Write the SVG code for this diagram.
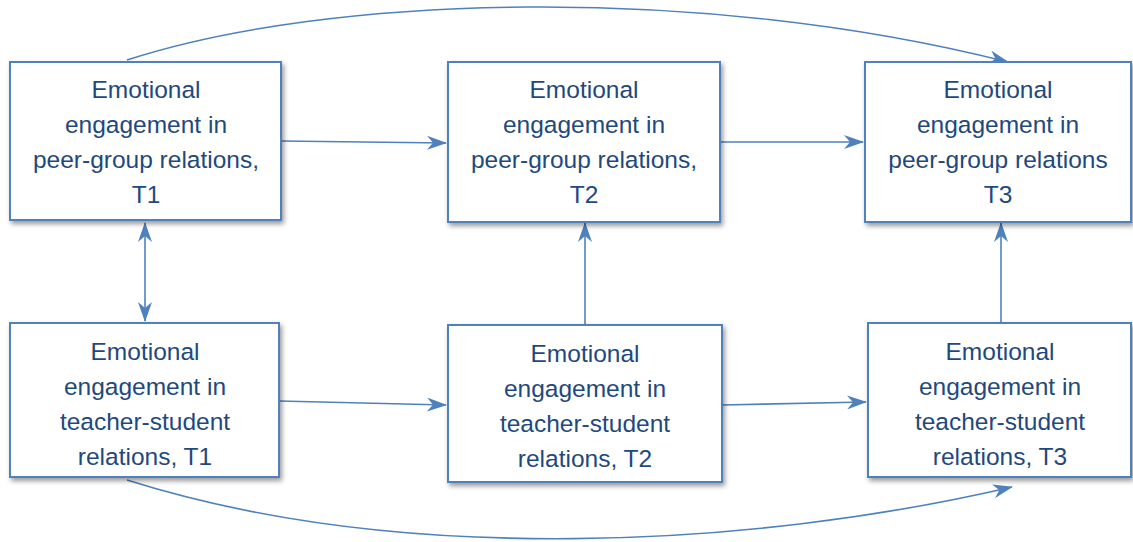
<svg xmlns="http://www.w3.org/2000/svg" width="1133" height="542" viewBox="0 0 1133 542">
<defs>
<style>
.box{fill:#fff;stroke:#4F81BD;stroke-width:2;filter:url(#sh)}
.t{font-family:"Liberation Sans",Arial,sans-serif;font-size:24.5px;fill:#1F497D;text-anchor:middle}
.c{fill:none;stroke:#4F81BD;stroke-width:1.6;marker-end:url(#ah)}
</style>
<filter id="sh" x="-5%" y="-5%" width="115%" height="120%">
<feDropShadow dx="2" dy="3" stdDeviation="2.5" flood-color="#000" flood-opacity="0.4"/>
</filter>
<marker id="ah" viewBox="0 0 20 14" refX="19" refY="7" markerWidth="20" markerHeight="14" markerUnits="userSpaceOnUse" orient="auto-start-reverse">
<path d="M0,0 L20,7 L0,14 L6,7 Z" fill="#4F81BD"/>
</marker>
</defs>
<g id="connectors">
<path class="c" d="M127,60 C330,-6 700,-16 1008,62"/>
<path class="c" d="M127,480 C400,566 750,548 1012,487"/>
<path class="c" d="M281,141 L446,143"/>
<path class="c" d="M720,142 L863,142"/>
<path class="c" d="M279,401 L446,405"/>
<path class="c" d="M722,405 L866,402"/>
<path class="c" d="M145,223 L145,321" style="marker-start:url(#ah)"/>
<path class="c" d="M585,325 L585,223"/>
<path class="c" d="M1001,323 L1001,223"/>
</g>
<g id="n1"><rect class="box" x="10" y="62" width="271" height="158"/>
<text class="t" x="146" y="98">Emotional</text><text class="t" x="146" y="133">engagement in</text><text class="t" x="146" y="168">peer-group relations,</text><text class="t" x="146" y="203">T1</text></g>
<g id="n2"><rect class="box" x="448" y="62" width="272" height="160"/>
<text class="t" x="584" y="98">Emotional</text><text class="t" x="584" y="133">engagement in</text><text class="t" x="584" y="168">peer-group relations,</text><text class="t" x="584" y="203">T2</text></g>
<g id="n3"><rect class="box" x="865" y="62" width="266" height="160"/>
<text class="t" x="998" y="98">Emotional</text><text class="t" x="998" y="133">engagement in</text><text class="t" x="998" y="168">peer-group relations</text><text class="t" x="998" y="203">T3</text></g>
<g id="n4"><rect class="box" x="10" y="323" width="269" height="154"/>
<text class="t" x="145" y="360">Emotional</text><text class="t" x="145" y="395">engagement in</text><text class="t" x="145" y="430">teacher-student</text><text class="t" x="145" y="465">relations, T1</text></g>
<g id="n5"><rect class="box" x="448" y="325" width="274" height="157"/>
<text class="t" x="585" y="362">Emotional</text><text class="t" x="585" y="397">engagement in</text><text class="t" x="585" y="432">teacher-student</text><text class="t" x="585" y="467">relations, T2</text></g>
<g id="n6"><rect class="box" x="868" y="323" width="263" height="154"/>
<text class="t" x="1000" y="360">Emotional</text><text class="t" x="1000" y="395">engagement in</text><text class="t" x="1000" y="430">teacher-student</text><text class="t" x="1000" y="465">relations, T3</text></g>
</svg>
